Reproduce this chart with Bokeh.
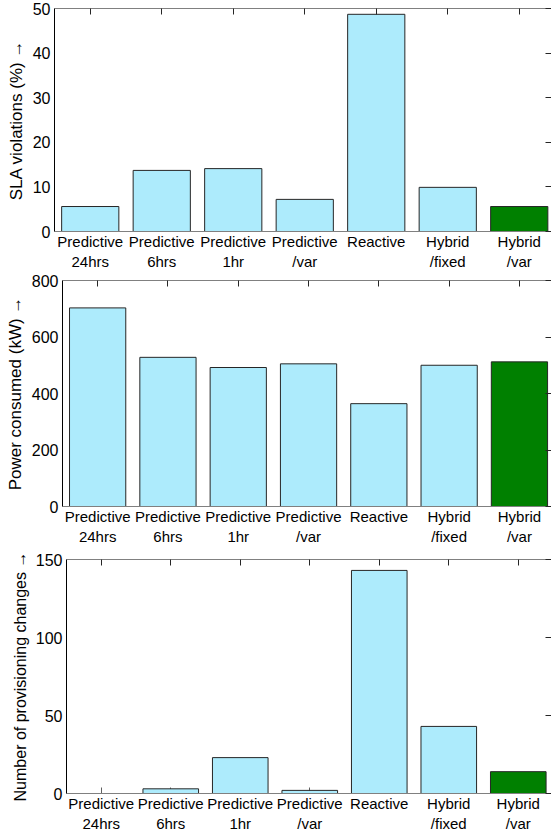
from bokeh.plotting import figure
from bokeh.models import Range1d, FixedTicker, LinearAxis, ColumnDataSource, CustomLabelingPolicy
from bokeh.layouts import column
from bokeh.embed import file_html
from bokeh.resources import INLINE

# ---- data ----
strategy_labels = ["Predictive\n24hrs", "Predictive\n6hrs", "Predictive\n1hr",
                   "Predictive\n/var", "Reactive", "Hybrid\n/fixed", "Hybrid\n/var"]
positions = [1, 2, 3, 4, 5, 6, 7]
sla_violations = [5.6, 13.7, 14.1, 7.2, 48.7, 9.9, 5.6]
power_consumed = [703, 528, 492, 505, 364, 500, 512]
provisioning_changes = [0, 3, 23, 2, 143, 43, 14]
bar_colors = ["#ADEBFC", "#ADEBFC", "#ADEBFC", "#ADEBFC", "#ADEBFC", "#ADEBFC", "#008000"]

sla_ticks = [0, 10, 20, 30, 40, 50]
power_ticks = [0, 200, 400, 600, 800]
prov_ticks = [0, 50, 100, 150]

FONT = "Liberation Sans"


def hidden_labels_axis(ticks):
    ax = LinearAxis(ticker=FixedTicker(ticks=ticks, minor_ticks=[]))
    ax.major_label_policy = CustomLabelingPolicy(code="for (const i of indices) indices.unset(i)")
    ax.major_label_text_font_size = "0px"
    ax.major_label_standoff = 0
    ax.major_tick_in = 6
    ax.major_tick_out = 0
    ax.minor_tick_line_color = None
    ax.major_tick_line_color = "#262626"
    return ax


def make_panel(values, y_end, y_ticks, ylabel, label_size, height, x_end,
               mbl, mbt, mbb, lab_standoff):
    p = figure(width=551, height=height,
               x_range=Range1d(0.5, x_end), y_range=Range1d(0, y_end),
               output_backend="svg", toolbar_location=None,
               x_axis_location=None,
               min_border_left=mbl, min_border_right=0,
               min_border_top=mbt, min_border_bottom=mbb)
    src = ColumnDataSource(dict(x=positions, top=values, color=bar_colors))
    p.vbar(x="x", top="top", bottom=0, width=0.8, source=src,
           fill_color="color", line_color="#262626", line_width=1)
    p.xgrid.visible = False
    p.ygrid.visible = False
    p.outline_line_color = None

    # bottom ticks, drawn beneath the bars
    bottom_ticks = hidden_labels_axis(positions)
    bottom_ticks.axis_line_color = None
    bottom_ticks.major_tick_line_color = "#606060"
    bottom_ticks.level = "underlay"
    p.add_layout(bottom_ticks, "below")

    xa = LinearAxis(ticker=FixedTicker(ticks=positions, minor_ticks=[]))
    xa.major_label_overrides = {k: s for k, s in zip(positions, strategy_labels)}
    xa.major_tick_in = 0
    xa.major_tick_out = 0
    xa.minor_tick_line_color = None
    xa.axis_line_color = "#808080"
    xa.major_label_text_font = FONT
    xa.major_label_text_font_size = "15px"
    xa.major_label_text_color = "black"
    xa.major_label_standoff = 1
    p.add_layout(xa, "below")

    ya = p.yaxis[0]
    ya.ticker = FixedTicker(ticks=y_ticks, minor_ticks=[])
    ya.major_tick_in = 0
    ya.major_tick_out = 0
    ya.minor_tick_line_color = None
    ya.axis_line_color = "black"
    ya.major_label_text_font = FONT
    ya.major_label_text_font_size = "16px"
    ya.major_label_text_color = "black"
    ya.major_label_standoff = 4
    ya.axis_label = ylabel
    ya.axis_label_text_font = FONT
    ya.axis_label_text_font_size = label_size
    ya.axis_label_text_font_style = "normal"
    ya.axis_label_text_color = "black"
    ya.axis_label_standoff = lab_standoff

    top = hidden_labels_axis(positions)
    top.axis_line_color = "#808080"
    p.add_layout(top, "above")

    right = hidden_labels_axis(y_ticks)
    right.axis_line_color = None
    p.add_layout(right, "right")
    return p


p1 = make_panel(sla_violations, 50, sla_ticks, "SLA violations (%) \u2192", "17px",
                272, 7.451, 54, 8, 40, 4)
p2 = make_panel(power_consumed, 800, power_ticks, "Power consumed (kW) \u2192", "17px",
                275, 7.456, 62, 8, 41, 4)
p3 = make_panel(provisioning_changes, 150, prov_ticks, "Number of provisioning changes \u2192", "16px",
                287, 7.478, 66, 12, 40, 4)

layout = column(column(p1), column(p2), column(p3), spacing=0)
open("out.html", "w").write(file_html(layout, INLINE))
